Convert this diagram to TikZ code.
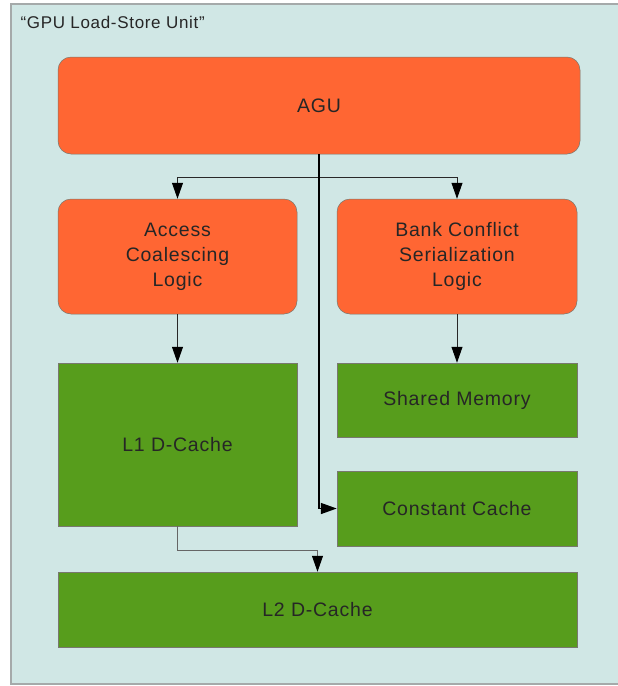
\documentclass[tikz,border=0pt]{standalone}
\usepackage{fontspec}
\setmainfont[LetterSpace=4]{Liberation Sans}
\usetikzlibrary{arrows.meta,calc}
\definecolor{framefill}{RGB}{208,231,229}
\definecolor{frameline}{RGB}{165,170,170}
\definecolor{orangebox}{RGB}{255,102,51}
\definecolor{greenbox}{RGB}{87,157,28}
\definecolor{boxline}{RGB}{120,120,110}
\definecolor{lineclr}{RGB}{40,40,40}
\begin{document}
\begin{tikzpicture}[x=1pt,y=-1pt,
  orangenode/.style={draw=boxline,line width=0.5pt,fill=orangebox,rounded corners=13pt,inner sep=0pt,align=center,font=\fontsize{19.5}{25}\selectfont,text=black!85},
  greennode/.style={draw=boxline,line width=0.5pt,fill=greenbox,inner sep=0pt,align=center,font=\fontsize{19.5}{25}\selectfont,text=black!85},
  conn/.style={draw=lineclr,line width=0.9pt,-{Triangle[length=16pt,width=11pt,color=black]}},
  mainconn/.style={draw=black,line width=1.6pt,-{Triangle[length=16pt,width=11pt]}}
]
\useasboundingbox (0,0) rectangle (618,686);
\fill[white] (0,0) rectangle (618,686);
\draw[fill=framefill,draw=frameline,line width=1.5pt] (11,4) rectangle (640,684);
\node[anchor=base west,font=\fontsize{17}{20}\selectfont,text=black!85] (title) at (17,28) {“GPU Load-Store Unit”};

\node[orangenode,minimum width=522pt,minimum height=97pt] (agu) at (319,105.5) {AGU};
\node[orangenode,minimum width=239pt,minimum height=115pt] (acl) at (177.5,256.5) {Access\\Coalescing\\Logic};
\node[orangenode,minimum width=240pt,minimum height=115pt] (bcl) at (457,256.5) {Bank Conflict\\Serialization\\Logic};
\node[greennode,minimum width=239pt,minimum height=163pt] (l1) at (177.5,444.5) {L1 D-Cache};
\node[greennode,minimum width=240pt,minimum height=74pt] (shm) at (457,400) {Shared Memory};
\node[greennode,minimum width=240pt,minimum height=75pt] (cc) at (457,508.5) {Constant Cache};
\node[greennode,minimum width=519pt,minimum height=75pt] (l2) at (317.5,609.5) {L2 D-Cache};

\coordinate (split) at ($(agu.south)+(0,23)$);
\draw[conn] (split) -| (acl.north);
\draw[conn] (split) -| (bcl.north);
\draw[mainconn] (agu.south) |- (cc.west);
\draw[conn] (acl.south) -- (l1.north);
\draw[conn] (bcl.south) -- (shm.north);
\draw[conn,draw=black!60] (l1.south) -- ++(0,24) -| (l2.north);
\end{tikzpicture}
\end{document}
